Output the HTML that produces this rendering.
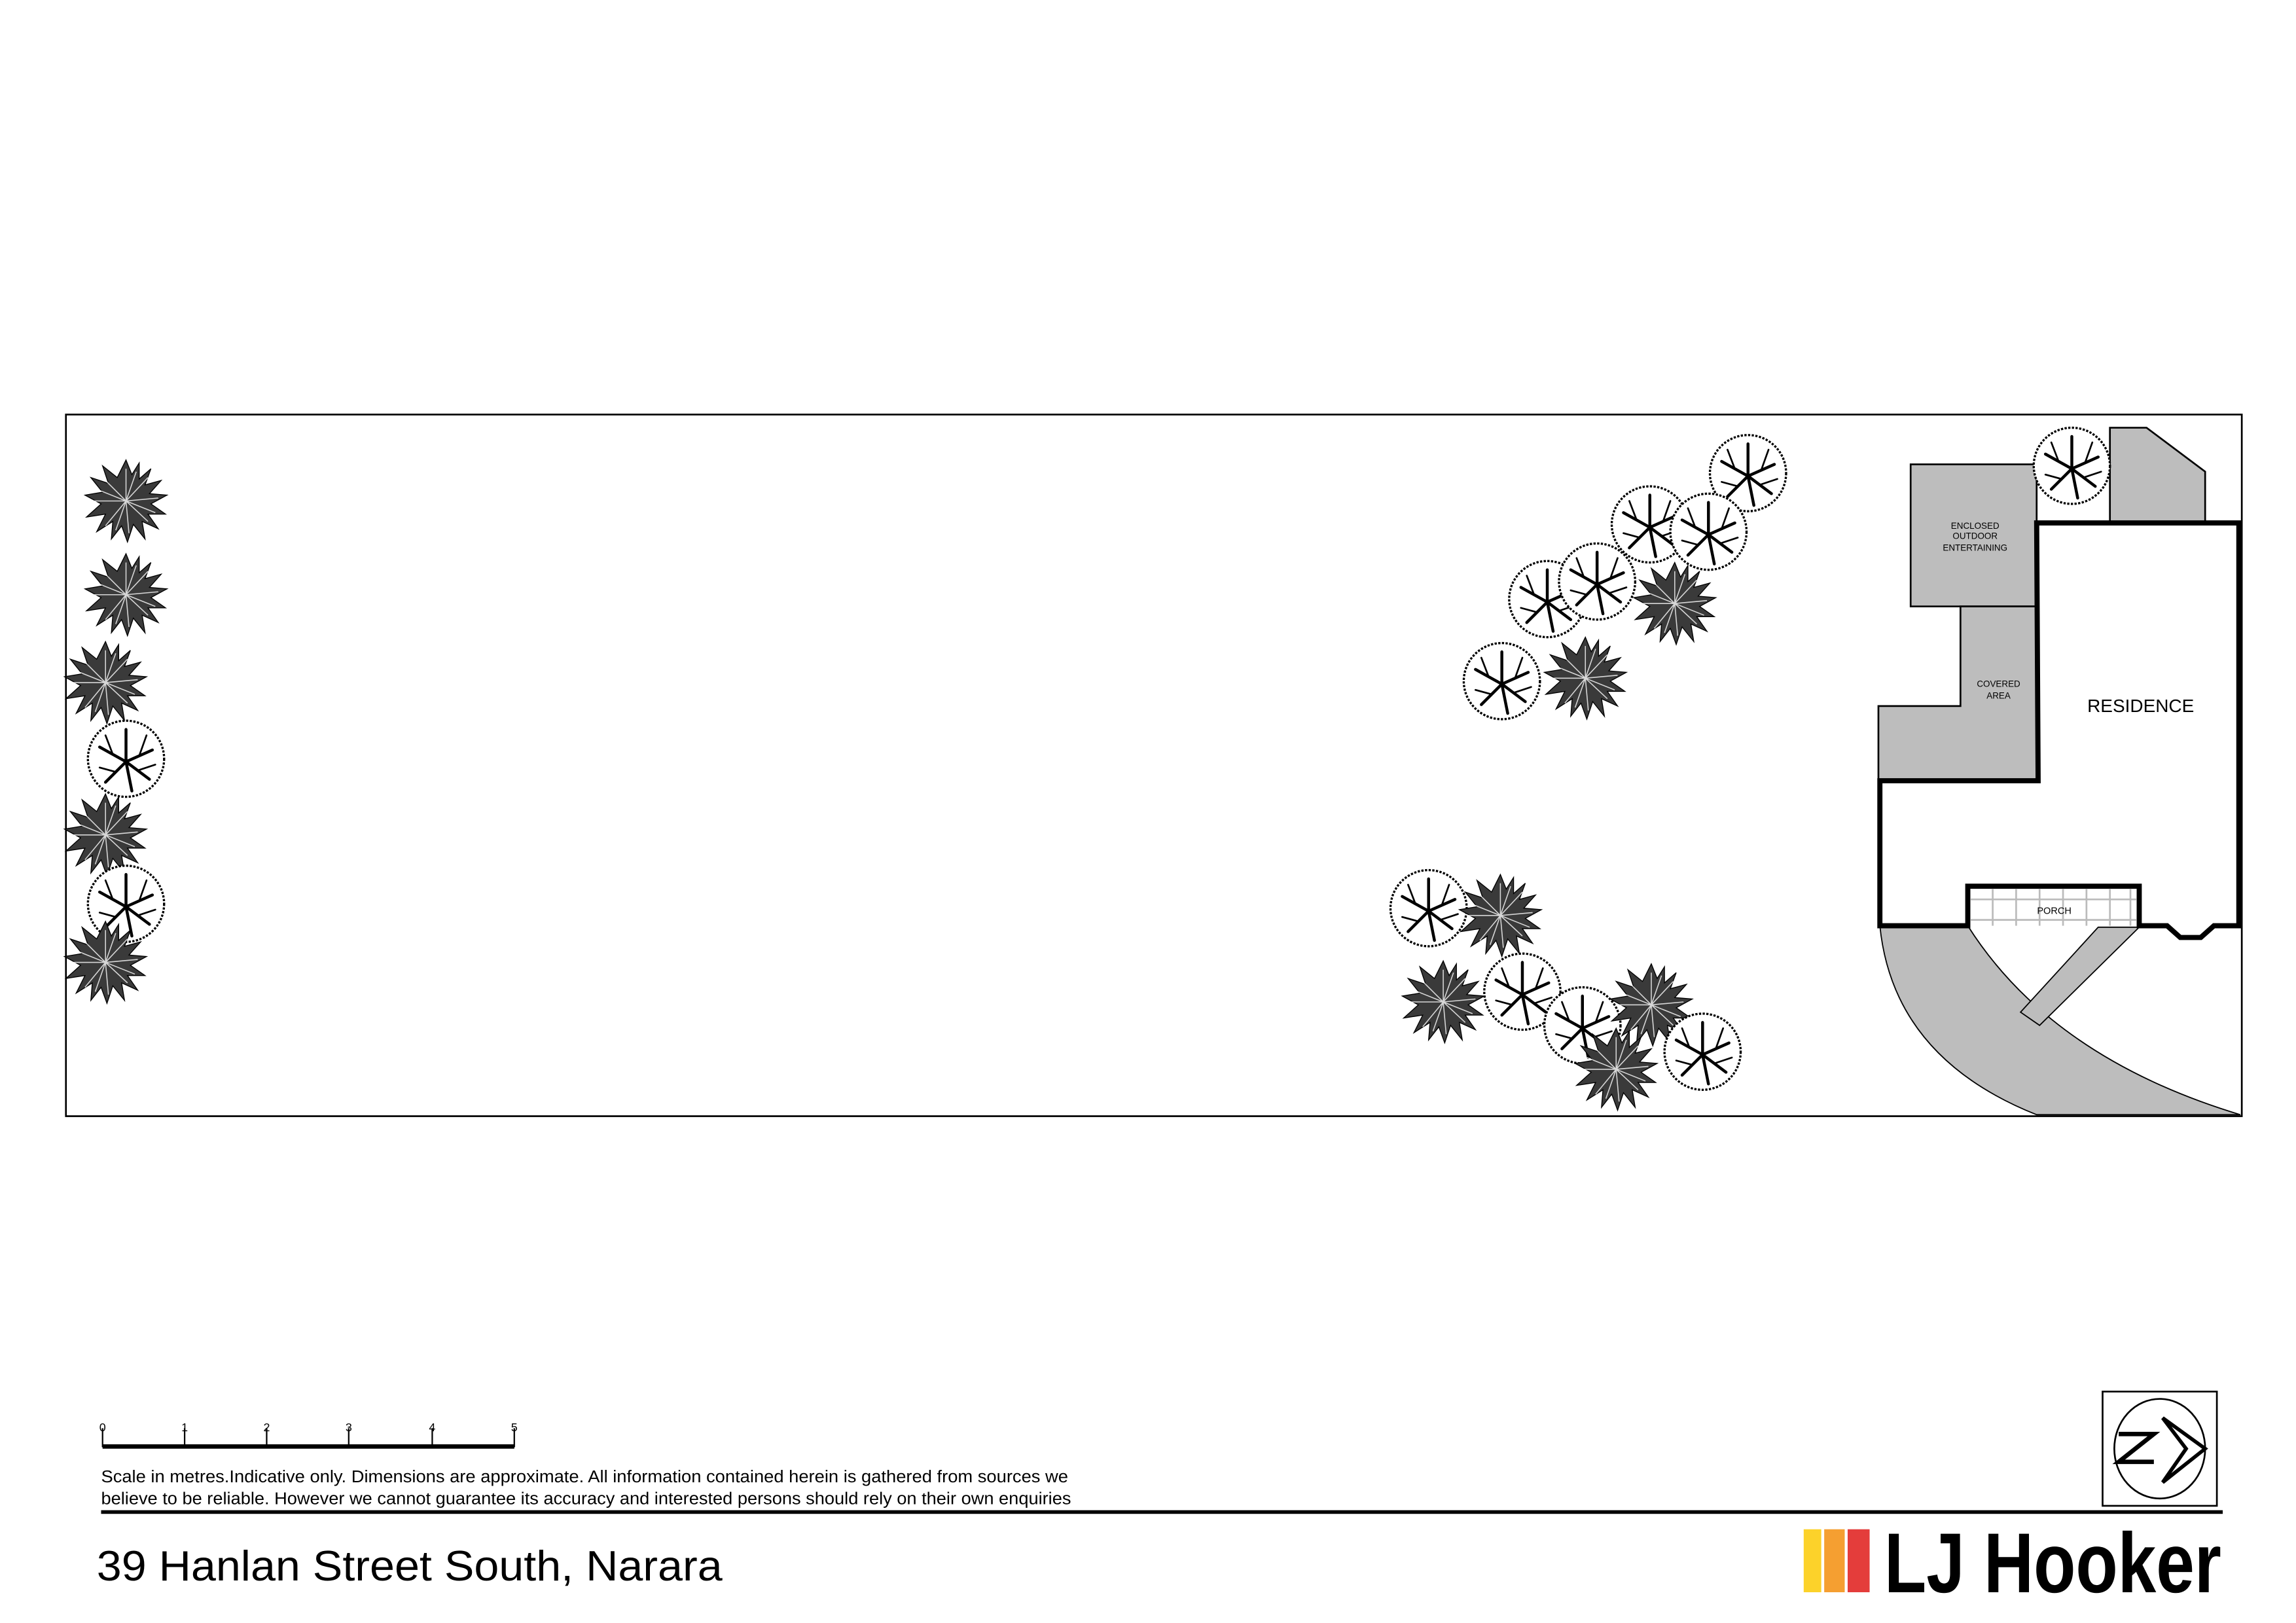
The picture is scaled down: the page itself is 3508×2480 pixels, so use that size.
<!DOCTYPE html>
<html><head><meta charset="utf-8"><style>
html,body{margin:0;padding:0;background:#fff}
svg{display:block}
text{font-family:"Liberation Sans",sans-serif}
</style></head><body>
<svg width="3508" height="2480" viewBox="0 0 1567 1108" preserveAspectRatio="none" xmlns="http://www.w3.org/2000/svg">
<defs>
<g id="tree">
<circle r="26" fill="#fff" stroke="#000" stroke-width="1.5" stroke-dasharray="1.5 1"/>
<g stroke="#000" stroke-width="2" fill="none" stroke-linecap="round">
<path d="M0,2 L0,-20 M0,2 L-18,-8 M0,2 L18,-6 M0,2 L-14,16 M0,2 L4,22 M0,2 L16,14"/>
<path d="M-9,-3 L-14,-16 M9,-2 L14,-16 M-7,9 L-18,6 M8,8 L20,4" stroke-width="1.2"/>
</g>
</g>
<g id="shrub">
<polygon fill="#3a3a3a" stroke="#000" stroke-width="0.6" points="0,-28 4,-18 9,-26 9,-15 17,-22 13,-11 24,-14 16,-5 28,-4 17,2 27,9 15,9 22,19 11,14 13,26 5,16 1,28 -3,17 -10,26 -9,14 -20,21 -14,9 -27,11 -17,2 -28,-4 -16,-6 -24,-16 -12,-12 -16,-24 -6,-16"/>
<g stroke="#fff" stroke-width="0.7" opacity="0.8">
<path d="M0,0 L0,-22 M0,0 L15,-16 M0,0 L22,-2 M0,0 L15,14 M0,0 L2,22 M0,0 L-14,17 M0,0 L-22,0 M0,0 L-15,-15 M0,0 L7,-20 M0,0 L20,8 M0,0 L-7,20 M0,0 L-20,-8"/>
</g>
</g>
</defs>
<rect x="45" y="283" width="1485" height="479" fill="#fff" stroke="#000" stroke-width="1.2"/>
<path d="M1283,632 Q1292,722 1390,761 L1529,761 Q1400,722 1343,632 Z" fill="#bdbdbd" stroke="#000" stroke-width="0.8"/>
<polygon points="1432,633 1460,633 1392,700 1379,691" fill="#bdbdbd" stroke="#000" stroke-width="0.8"/>
<rect x="1304" y="317" width="86" height="97" fill="#bdbdbd" stroke="#000" stroke-width="1.2"/>
<polygon points="1338,414 1390,414 1390,532 1282,532 1282,482 1338,482" fill="#bdbdbd" stroke="#000" stroke-width="1.2"/>
<polygon points="1440,292 1465,292 1505,322 1505,356 1440,356" fill="#bdbdbd" stroke="#000" stroke-width="1.2"/>
<path d="M1390,357 L1528,357 L1528,632 L1511,632 L1502,640 L1488,640 L1479,632 L1460,632 L1460,605 L1343,605 L1343,632 L1283,632 L1283,533 L1391,533 Z" fill="#fff" stroke="#000" stroke-width="3.5"/>
<rect x="1345" y="607" width="113" height="25" fill="#fff"/>
<g stroke="#bbb" stroke-width="1.2">
<line x1="1345" y1="614" x2="1458" y2="614"/><line x1="1345" y1="628" x2="1458" y2="628"/>
<line x1="1360" y1="607" x2="1360" y2="632"/><line x1="1376" y1="607" x2="1376" y2="632"/><line x1="1392" y1="607" x2="1392" y2="632"/><line x1="1408" y1="607" x2="1408" y2="632"/><line x1="1424" y1="607" x2="1424" y2="632"/><line x1="1440" y1="607" x2="1440" y2="632"/><line x1="1454" y1="607" x2="1454" y2="632"/>
</g>
<text x="1402" y="624" font-size="6.5" text-anchor="middle">PORCH</text>
<text x="1461" y="486" font-size="12.5" text-anchor="middle">RESIDENCE</text>
<text font-size="6" text-anchor="middle"><tspan x="1348" y="361">ENCLOSED</tspan><tspan x="1348" y="368">OUTDOOR</tspan><tspan x="1348" y="376">ENTERTAINING</tspan></text>
<text font-size="6" text-anchor="middle"><tspan x="1364" y="469">COVERED</tspan><tspan x="1364" y="477">AREA</tspan></text>
<use href="#tree" x="1193" y="323"/><use href="#tree" x="1126" y="358"/><use href="#tree" x="1166" y="363"/>
<use href="#tree" x="1056" y="409"/><use href="#tree" x="1090" y="397"/><use href="#tree" x="1025" y="465"/>
<use href="#shrub" x="1143" y="412"/><use href="#shrub" x="1082" y="463"/>
<use href="#tree" x="975" y="620"/><use href="#shrub" x="1024" y="625"/><use href="#shrub" x="985" y="684"/>
<use href="#tree" x="1039" y="677"/><use href="#tree" x="1080" y="700"/><use href="#shrub" x="1127" y="686"/>
<use href="#shrub" x="1103" y="730"/><use href="#tree" x="1162" y="718"/>
<use href="#tree" x="1414" y="318"/>
<use href="#shrub" x="86" y="342"/><use href="#shrub" x="86" y="406"/><use href="#shrub" x="72" y="466"/>
<use href="#tree" x="86" y="518"/><use href="#shrub" x="72" y="570"/><use href="#tree" x="86" y="617"/><use href="#shrub" x="72" y="657"/>
<g stroke="#000" stroke-width="1">
<line x1="70" y1="975" x2="70" y2="988"/><line x1="126" y1="975" x2="126" y2="988"/><line x1="182" y1="975" x2="182" y2="988"/><line x1="238" y1="975" x2="238" y2="988"/><line x1="295" y1="975" x2="295" y2="988"/><line x1="351" y1="975" x2="351" y2="988"/>
</g>
<rect x="70" y="986" width="281" height="3" fill="#000"/>
<g font-size="8" text-anchor="middle"><text x="70" y="977">0</text><text x="126" y="977">1</text><text x="182" y="977">2</text><text x="238" y="977">3</text><text x="295" y="977">4</text><text x="351" y="977">5</text></g>
<text x="69" y="1012" font-size="11.5" textLength="660" lengthAdjust="spacingAndGlyphs">Scale in metres.Indicative only. Dimensions are approximate. All information contained herein is gathered from sources we</text>
<text x="69" y="1027" font-size="11.5" textLength="662" lengthAdjust="spacingAndGlyphs">believe to be reliable. However we cannot guarantee its accuracy and interested persons should rely on their own enquiries</text>
<rect x="69" y="1031" width="1448" height="2.5" fill="#000"/>
<text x="66" y="1079" font-size="29" textLength="427" lengthAdjust="spacingAndGlyphs">39 Hanlan Street South, Narara</text>
<rect x="1435" y="950" width="78" height="78" fill="#fff" stroke="#000" stroke-width="1.2"/>
<ellipse cx="1474" cy="989" rx="31" ry="34" fill="none" stroke="#000" stroke-width="1.2"/>
<path d="M1476,968 L1505,989 L1476,1012 L1492,989 Z" fill="#fff" stroke="#000" stroke-width="2.5"/>
<path d="M1446,979 L1470,979 L1446,998 L1470,998" fill="none" stroke="#000" stroke-width="3"/>
<rect x="1231" y="1044" width="12" height="43" fill="#fcd22a"/>
<rect x="1245" y="1044" width="14" height="43" fill="#f59f31"/>
<rect x="1261" y="1044" width="15" height="43" fill="#e43d3b"/>
<text x="1286" y="1087" font-size="58" font-weight="bold" textLength="230" lengthAdjust="spacingAndGlyphs">LJ Hooker</text>
</svg>
</body></html>
